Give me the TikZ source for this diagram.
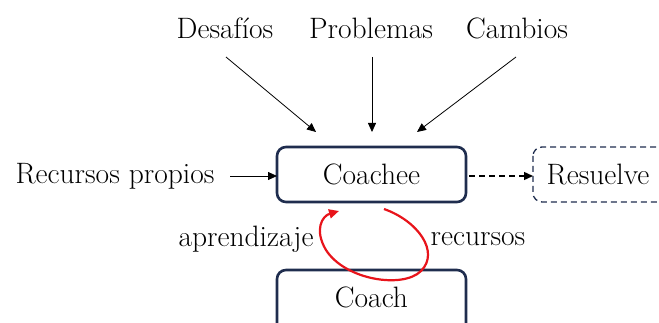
\documentclass[tikz,border=0pt]{standalone}
\usetikzlibrary{arrows.meta}
\definecolor{boxline}{HTML}{1F2D4E}
\definecolor{loopred}{HTML}{E8141B}
\begin{document}
\begin{tikzpicture}[x=1pt,y=-1pt,
  lbl/.style={font=\fontsize{29.5}{34}\selectfont, inner sep=0pt},
  mainbox/.style={draw=boxline, line width=2.6pt, rounded corners=9pt},
  dashbox/.style={draw=boxline, line width=1.3pt, dash pattern=on 6pt off 4pt, rounded corners=9pt},
  feed/.style={draw=black, line width=0.8pt, -{Triangle[length=9pt,width=8pt]}},
  dfeed/.style={draw=black, line width=1.4pt, dash pattern=on 6pt off 4pt, -{Triangle[length=9pt,width=8pt]}},
  loop/.style={draw=loopred, line width=2.2pt, -{Triangle[length=10pt,width=9pt]}}]
\useasboundingbox (0,0) rectangle (659,323);
\clip (0,0) rectangle (659,323);

% top influences
\node[lbl] (des) at (225,28) {Desafíos};
\node[lbl] (pro) at (371,28) {Problemas};
\node[lbl] (cam) at (517,28) {Cambios};

% boxes
\draw[mainbox] (277,147) rectangle (466,202);
\node[lbl] (coachee) at (371.5,174.5) {Coachee};
\coordinate (coacheeW) at (277,176);
\coordinate (coacheeE) at (466,176);
\draw[dashbox] (533,147) rectangle (680,202);
\node[lbl] (res) at (598,175) {Resuelve};
\coordinate (resW) at (533,176);
\draw[mainbox] (277,270) rectangle (466,340);
\node[lbl] (coach) at (371.5,297) {Coach};

\node[lbl] (rp) at (115,176) {Recursos propios};
\node[lbl] (apr) at (246,239) {aprendizaje};
\node[lbl] (rec) at (478,239) {recursos};

% arrow end points above Coachee
\coordinate (e1) at (316,132);
\coordinate (e2) at (372,132);
\coordinate (e3) at (417,132);
\coordinate (s1) at (226,57);
\coordinate (s2) at (372,57);
\coordinate (s3) at (516,57);

\draw[feed] (s1) -- (e1);
\draw[feed] (s2) -- (e2);
\draw[feed] (s3) -- (e3);
\coordinate (rpE) at (230,176);
\draw[feed] (rpE) -- (coacheeW);
\coordinate (cE) at (469,176);
\draw[dfeed] (cE) -- (resW);

% learning loop between coach and coachee
\coordinate (ls) at (384,209);
\coordinate (le) at (339,211);
\draw[loop] (ls) .. controls (418,221) and (440,252) .. (421,271)
  .. controls (403,289) and (345,280) .. (326,250)
  .. controls (314,230) and (322,216) .. (le);
\end{tikzpicture}
\end{document}
